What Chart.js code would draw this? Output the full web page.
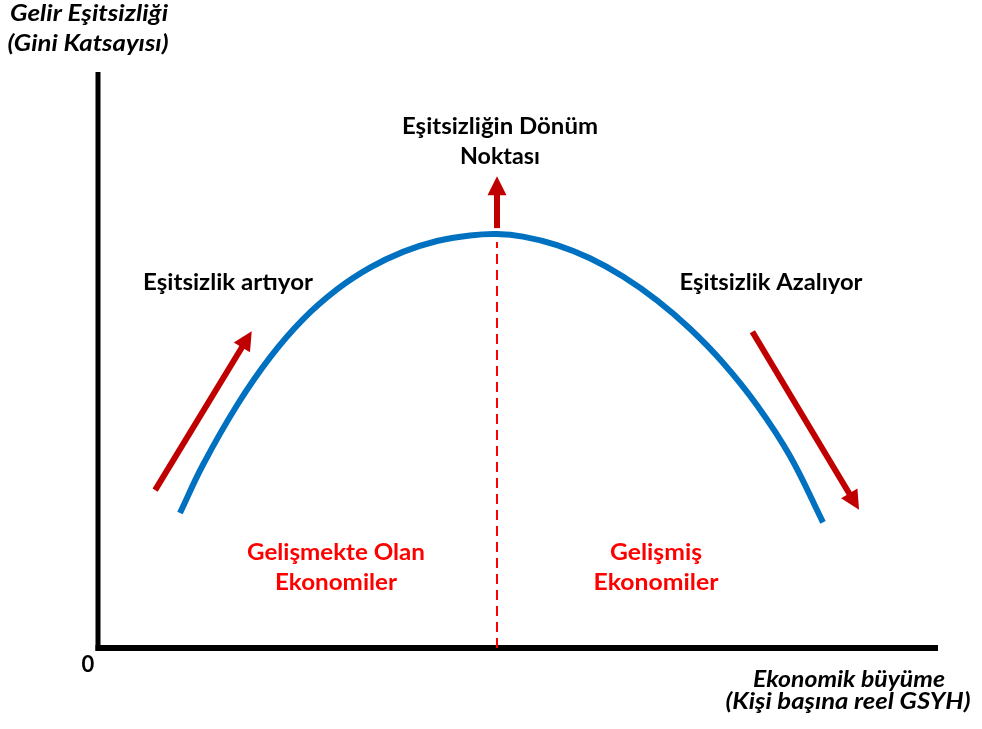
<!DOCTYPE html>
<html>
<head>
<meta charset="utf-8">
<script src="https://cdn.jsdelivr.net/npm/chart.js@4.4.1/dist/chart.umd.min.js"></script>
<style>
  html, body { margin: 0; padding: 0; background: #ffffff; }
  #wrap { position: relative; width: 982px; height: 729px; }
</style>
</head>
<body>
<div id="wrap"><canvas id="kuznets"></canvas></div>
<script>
// Kuznets eğrisi (x: 0-100, y: 0-100)
const curveX = [9.76, 12.5, 16.55, 20.48, 24.4, 28.45, 32.38, 36.31, 40.36, 44.29, 47.5,
                50.6, 54.64, 58.57, 62.5, 66.55, 70.48, 74.4, 78.45, 82.38, 86.31];
const curveY = [23.44, 31.81, 42.14, 50.45, 57.05, 62.24, 66.02, 68.77, 70.66, 71.63, 71.88,
                71.42, 69.95, 67.66, 64.5, 60.36, 55.43, 49.53, 42.15, 33.33, 21.81];

// dönüm noktası (kesikli çizgi)
const turnX = 47.5;
const turnY = [0, 70.5];

// oklar: [başlangıç, uç]
const arrowNames = ['artıyor', 'dönüm', 'azalıyor'];
const arrowFrom = [{ x: 6.8, y: 27.4 }, { x: 47.5, y: 72.9 }, { x: 77.9, y: 54.9 }];
const arrowTo = [{ x: 18.3, y: 55.0 }, { x: 47.5, y: 81.9 }, { x: 90.6, y: 24.0 }];

const BLUE = '#0070C0';
const DARK_RED = '#C00000';
const RED = '#FF0000';

const curveData = curveX.map((x, i) => ({ x, y: curveY[i] }));
const turnData = turnY.map(y => ({ x: turnX, y }));

const arrowSets = arrowNames.map((name, i) => ({
    label: 'ok ' + name,
    data: [arrowFrom[i], arrowTo[i]],
    showLine: false,
    pointRadius: 0,
    isArrow: true
}));

// eksen çizgileri
const axesPlugin = {
    id: 'axesPlugin',
    beforeDatasetsDraw(chart) {
        const { ctx, scales: { x, y } } = chart;
        const x0 = x.getPixelForValue(0), x1 = x.getPixelForValue(100);
        const y0 = y.getPixelForValue(0), y1 = y.getPixelForValue(100);
        ctx.save();
        ctx.strokeStyle = '#000';
        ctx.lineCap = 'butt';
        ctx.lineWidth = 5;
        ctx.beginPath();
        ctx.moveTo(x0, y1);
        ctx.lineTo(x0, y0 + 3);
        ctx.stroke();
        ctx.lineWidth = 6;
        ctx.beginPath();
        ctx.moveTo(x0 - 2.5, y0);
        ctx.lineTo(x1, y0);
        ctx.stroke();
        ctx.restore();
    }
};

// ok çizimi (gövde + uç)
const arrowPlugin = {
    id: 'arrowPlugin',
    afterDatasetsDraw(chart) {
        const ctx = chart.ctx;
        chart.data.datasets.forEach((ds, i) => {
            if (!ds.isArrow) return;
            const pts = chart.getDatasetMeta(i).data;
            const a = pts[0], b = pts[1];
            const ang = Math.atan2(b.y - a.y, b.x - a.x);
            const headLen = 19, headW = 9.5;
            const bx = b.x - Math.cos(ang) * headLen, by = b.y - Math.sin(ang) * headLen;
            ctx.save();
            ctx.strokeStyle = DARK_RED;
            ctx.fillStyle = DARK_RED;
            ctx.lineWidth = 6;
            ctx.lineCap = 'butt';
            ctx.beginPath();
            ctx.moveTo(a.x, a.y);
            ctx.lineTo(bx + Math.cos(ang) * 2, by + Math.sin(ang) * 2);
            ctx.stroke();
            ctx.beginPath();
            ctx.moveTo(b.x, b.y);
            ctx.lineTo(bx - Math.sin(ang) * headW, by + Math.cos(ang) * headW);
            ctx.lineTo(bx + Math.sin(ang) * headW, by - Math.cos(ang) * headW);
            ctx.closePath();
            ctx.fill();
            ctx.restore();
        });
    }
};

// metinler
const FONT = 'Lato, "Open Sans", sans-serif';
function drawLabel(ctx, text, cx, cy, w, color, italic) {
    ctx.save();
    ctx.font = (italic ? 'italic ' : '') + 'bold 22px ' + FONT;
    ctx.fillStyle = color;
    ctx.textAlign = 'center';
    ctx.textBaseline = 'middle';
    const m = ctx.measureText(text).width;
    const sx = w ? w / m : 1;
    ctx.translate(cx, cy);
    ctx.scale(sx, 1);
    ctx.fillText(text, 0, 0);
    ctx.restore();
}

const textPlugin = {
    id: 'textPlugin',
    afterDraw(chart) {
        const ctx = chart.ctx;
        drawLabel(ctx, 'Gelir Eşitsizliği', 89, 14, 158, '#000', true);
        drawLabel(ctx, '(Gini Katsayısı)', 88, 44, 161, '#000', true);
        drawLabel(ctx, '0', 88, 665, null, '#000', false);
        drawLabel(ctx, 'Ekonomik büyüme', 849, 680, 192, '#000', true);
        drawLabel(ctx, '(Kişi başına reel GSYH)', 848, 702, 245, '#000', true);
        drawLabel(ctx, 'Eşitsizliğin Dönüm', 500, 127, 196, '#000', false);
        drawLabel(ctx, 'Noktası', 500, 157, 80, '#000', false);
        drawLabel(ctx, 'Eşitsizlik artıyor', 228, 283, 170, '#000', false);
        drawLabel(ctx, 'Eşitsizlik Azalıyor', 771, 283, 183, '#000', false);
        drawLabel(ctx, 'Gelişmekte Olan', 336, 553, 178, RED, false);
        drawLabel(ctx, 'Ekonomiler', 336, 583, 122, RED, false);
        drawLabel(ctx, 'Gelişmiş', 656, 553, 92, RED, false);
        drawLabel(ctx, 'Ekonomiler', 656, 583, 125, RED, false);
    }
};

new Chart(document.getElementById('kuznets'), {
    type: 'scatter',
    data: {
        datasets: [
            {
                label: 'Kuznets eğrisi',
                data: curveData,
                showLine: true,
                borderColor: BLUE,
                borderWidth: 6,
                borderCapStyle: 'butt',
                pointRadius: 0,
                tension: 0.4
            },
            {
                label: 'dönüm noktası',
                data: turnData,
                showLine: true,
                borderColor: RED,
                borderWidth: 2,
                borderDash: [10, 6],
                pointRadius: 0
            },
            ...arrowSets
        ]
    },
    options: {
        responsive: true,
        maintainAspectRatio: false,
        animation: false,
        layout: { padding: { left: 98, right: 44, top: 72, bottom: 81 } },
        plugins: { legend: { display: false }, tooltip: { enabled: false } },
        scales: {
            x: { type: 'linear', min: 0, max: 100, display: false },
            y: { type: 'linear', min: 0, max: 100, display: false }
        },
        clip: false
    },
    plugins: [axesPlugin, arrowPlugin, textPlugin]
});
</script>
</body>
</html>
